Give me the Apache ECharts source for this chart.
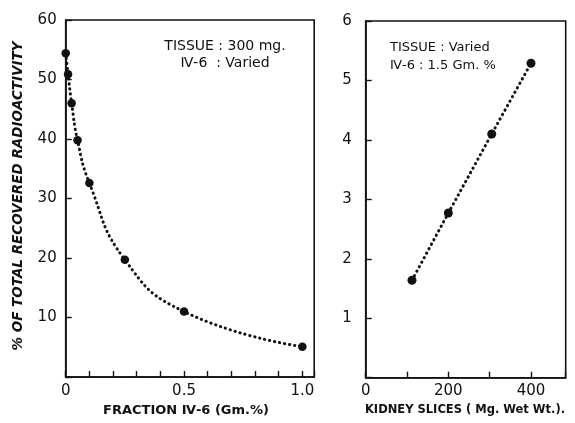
<!DOCTYPE html>
<html><head><meta charset="utf-8">
<script src="https://cdn.jsdelivr.net/npm/echarts@6/dist/echarts.min.js"></script>
<style>html,body{margin:0;padding:0;background:#fff}#c{width:575px;height:423px}</style>
</head><body><div id="c"></div>
<script>
// Left panel: fraction IV-6 (Gm.%) vs % recovered radioactivity
const fractionX = [0, 0.01, 0.025, 0.05, 0.1, 0.25, 0.5, 1.0];
const recoveredLeft = [54.4, 50.9, 46.0, 39.8, 32.6, 19.7, 11.0, 5.1];
const leftXTickLabels = ['0', '0.5', '1.0'];
const leftYTickLabels = ['10', '20', '30', '40', '50', '60'];
// Right panel: kidney slices (mg wet wt) vs % recovered radioactivity
const kidneyX = [112, 200, 305, 400];
const recoveredRight = [1.64, 2.77, 4.10, 5.29];
const rightXTickLabels = ['0', '200', '400'];
const rightYTickLabels = ['1', '2', '3', '4', '5', '6'];

const FONT = '"DejaVu Sans", "Liberation Sans", sans-serif';
const chart = echarts.init(document.getElementById('c'), null, {renderer: 'canvas'});
function near(a, b) { return Math.abs(a - b) < 1e-6; }
function labelFmt(list) {
  return function (v) {
    for (const s of list) { if (near(parseFloat(s), v)) return s; }
    return '';
  };
}
const dotLine = {color: '#111', width: 3, type: [0.3, 4.8], cap: 'round'};
const axisLineStyle = {show: true, lineStyle: {color: '#111', width: 1.6}};
const tickStyle = {show: true, inside: true, length: 6, lineStyle: {color: '#111', width: 1.4}};
const tickLabel = {color: '#111', fontFamily: FONT, fontSize: 15};

chart.setOption({
  animation: false,
  backgroundColor: '#fff',
  grid: [
    {left: 65.7, top: 20, width: 248.5, bottom: 46, show: true, borderColor: '#111', borderWidth: 1.6, backgroundColor: 'transparent'},
    {left: 365.7, top: 21, right: 9.3, bottom: 45.3, show: true, borderColor: '#111', borderWidth: 1.6, backgroundColor: 'transparent'}
  ],
  xAxis: [
    {gridIndex: 0, type: 'value', min: 0, max: 1.05, interval: 0.1, splitLine: {show: false},
     axisLine: axisLineStyle, axisTick: tickStyle,
     axisLabel: Object.assign({}, tickLabel, {margin: 7, formatter: labelFmt(leftXTickLabels)})},
    {gridIndex: 1, type: 'value', min: 0, max: 484, interval: 100, splitLine: {show: false},
     axisLine: axisLineStyle, axisTick: tickStyle,
     axisLabel: Object.assign({}, tickLabel, {margin: 6, formatter: labelFmt(rightXTickLabels)})}
  ],
  yAxis: [
    {gridIndex: 0, type: 'value', min: 0, max: 60, interval: 10, splitLine: {show: false},
     axisLine: axisLineStyle, axisTick: tickStyle,
     axisLabel: Object.assign({}, tickLabel, {margin: 9, formatter: labelFmt(leftYTickLabels)})},
    {gridIndex: 1, type: 'value', min: 0, max: 6, interval: 1, splitLine: {show: false},
     axisLine: axisLineStyle, axisTick: tickStyle,
     axisLabel: Object.assign({}, tickLabel, {margin: 14, formatter: labelFmt(rightYTickLabels)})}
  ],
  series: [
    {type: 'line', xAxisIndex: 0, yAxisIndex: 0,
     data: fractionX.map((x, i) => [x, recoveredLeft[i]]),
     smooth: 0.5,
     symbol: 'circle', symbolSize: 8.5, itemStyle: {color: '#111'},
     lineStyle: dotLine},
    {type: 'line', xAxisIndex: 1, yAxisIndex: 1,
     data: kidneyX.map((x, i) => [x, recoveredRight[i]]),
     symbol: 'circle', symbolSize: 9, itemStyle: {color: '#111'},
     lineStyle: dotLine}
  ],
  graphic: [
    {type: 'text', x: 225, y: 46, style: {text: 'TISSUE : 300 mg.', fill: '#111', font: '14px ' + FONT, textAlign: 'center', textVerticalAlign: 'middle'}},
    {type: 'text', x: 225, y: 63, style: {text: 'Ⅳ-6  : Varied', fill: '#111', font: '14px ' + FONT, textAlign: 'center', textVerticalAlign: 'middle'}},
    {type: 'text', x: 390, y: 48, style: {text: 'TISSUE : Varied', fill: '#111', font: '13px ' + FONT, textAlign: 'left', textVerticalAlign: 'middle'}},
    {type: 'text', x: 390, y: 66, style: {text: 'Ⅳ-6 : 1.5 Gm. %', fill: '#111', font: '13px ' + FONT, textAlign: 'left', textVerticalAlign: 'middle'}},
    {type: 'text', x: 186, y: 411, style: {text: 'FRACTION Ⅳ-6 (Gm.%)', fill: '#111', font: 'bold 13px ' + FONT, textAlign: 'center', textVerticalAlign: 'middle'}},
    {type: 'text', x: 465, y: 410, style: {text: 'KIDNEY SLICES ( Mg. Wet Wt.).', fill: '#111', font: 'bold 11.5px ' + FONT, textAlign: 'center', textVerticalAlign: 'middle'}},
    {type: 'text', x: 18, y: 196, rotation: Math.PI / 2, style: {text: '% OF TOTAL RECOVERED RADIOACTIVITY', fill: '#111', font: 'italic bold 13.5px ' + FONT, textAlign: 'center', textVerticalAlign: 'middle'}}
  ]
});
</script></body></html>
